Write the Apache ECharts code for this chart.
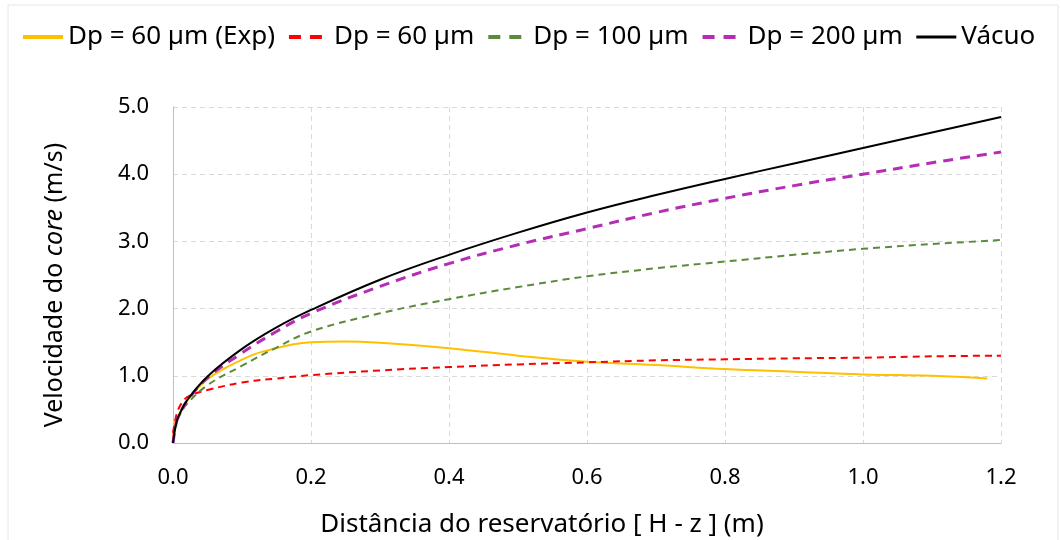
<!DOCTYPE html>
<html>
<head>
<meta charset="utf-8">
<script src="https://cdn.jsdelivr.net/npm/echarts@6/dist/echarts.min.js"></script>
<style>
  html, body { margin: 0; padding: 0; background: #fff; }
  #chart { width: 1061px; height: 540px; }
</style>
</head>
<body>
<div id="chart"></div>
<script>
// distance from reservoir [H - z] (m) and core velocity (m/s)
const expX = [0, 0.003, 0.01, 0.02, 0.05, 0.1, 0.13, 0.2, 0.25, 0.3, 0.4, 0.5, 0.6, 0.7, 0.8, 0.9, 1.0, 1.1, 1.18]
const expV = [0.05, 0.3, 0.45, 0.62, 0.95, 1.24, 1.36, 1.50, 1.51, 1.49, 1.41, 1.30, 1.21, 1.16, 1.10, 1.06, 1.02, 1.0, 0.96]

const dp60X = [0, 0.005, 0.01, 0.015, 0.02, 0.03, 0.05, 0.1, 0.15, 0.2, 0.3, 0.4, 0.5, 0.6, 0.7, 0.8, 0.9, 1.0, 1.1, 1.2]
const dp60V = [0.15, 0.42, 0.55, 0.62, 0.68, 0.73, 0.79, 0.90, 0.96, 1.01, 1.08, 1.13, 1.17, 1.20, 1.23, 1.245, 1.26, 1.27, 1.29, 1.30]

const modelX = [0, 0.005, 0.01, 0.02, 0.05, 0.1, 0.15, 0.2, 0.3, 0.4, 0.5, 0.6, 0.7, 0.8, 0.9, 1.0, 1.1, 1.2]
const dp100V = [0, 0.30, 0.42, 0.58, 0.86, 1.15, 1.42, 1.66, 1.93, 2.14, 2.32, 2.48, 2.60, 2.70, 2.80, 2.89, 2.96, 3.02]
const dp200V = [0, 0.31, 0.44, 0.62, 0.97, 1.34, 1.66, 1.93, 2.33, 2.67, 2.95, 3.19, 3.43, 3.64, 3.83, 4.00, 4.17, 4.33]
const vacuoV = [0, 0.31, 0.44, 0.63, 0.99, 1.40, 1.72, 1.98, 2.43, 2.80, 3.13, 3.43, 3.69, 3.93, 4.16, 4.39, 4.62, 4.85]

const names = ['Dp = 60 µm (Exp)', 'Dp = 60 µm', 'Dp = 100 µm', 'Dp = 200 µm', 'Vácuo']
const font = 'Noto Sans'

function pairs(xs, ys) {
  return xs.map((x, i) => [x, ys[i]])
}

function lineSeries(name, data, color, width, type) {
  return {
    name: name,
    type: 'line',
    data: data,
    smooth: 0.4,
    showSymbol: false,
    symbol: 'none',
    lineStyle: { color: color, width: width, type: type },
    itemStyle: { color: color }
  }
}

// legend icons: thicker, with the long two-dash look of the original
const dashed = { width: 4, type: [12, 9] }
const solid = { width: 4, type: 'solid' }

const chart = echarts.init(document.getElementById('chart'))
chart.setOption({
  backgroundColor: '#fff',
  animation: false,
  graphic: [
    {
      type: 'rect',
      shape: { x: 8, y: 5, width: 1050, height: 540 },
      style: { fill: 'none', stroke: '#e6e6e6', lineWidth: 1 },
      silent: true
    }
  ],
  legend: {
    top: 19,
    left: 16,
    right: 0,
    itemGap: 12,
    itemWidth: 40,
    itemHeight: 4,
    data: [
      { name: names[0], lineStyle: solid },
      { name: names[1], lineStyle: dashed },
      { name: names[2], lineStyle: dashed },
      { name: names[3], lineStyle: dashed },
      { name: names[4], lineStyle: { width: 3, type: 'solid' } }
    ],
    itemStyle: { opacity: 0 },
    textStyle: { fontFamily: font, fontSize: 26, color: '#000' }
  },
  grid: { left: 173, right: 60, top: 107, bottom: 97, outerBoundsMode: 'none' },
  xAxis: {
    type: 'value',
    min: 0,
    max: 1.2,
    interval: 0.2,
    name: 'Distância do reservatório [ H - z ] (m)',
    nameLocation: 'middle',
    nameGap: 69,
    nameTextStyle: { fontFamily: font, fontSize: 26, color: '#000', padding: [0, 90, 0, 0] },
    axisLine: { show: true, lineStyle: { color: '#bfbfbf', width: 1 } },
    axisTick: { show: false },
    axisLabel: {
      fontFamily: font, fontSize: 22, color: '#000', margin: 24,
      formatter: v => v.toFixed(1)
    },
    splitLine: { show: true, lineStyle: { color: '#d9d9d9', type: [5, 4] } }
  },
  yAxis: {
    type: 'value',
    min: 0,
    max: 5,
    interval: 1,
    name: 'Velocidade do {i|core} (m/s)',
    nameLocation: 'middle',
    nameGap: 106,
    nameTextStyle: {
      fontFamily: font, fontSize: 25, color: '#000', padding: [0, 20, 0, 0],
      rich: { i: { fontFamily: font, fontSize: 25, fontStyle: 'italic', color: '#000' } }
    },
    axisLine: { show: true, lineStyle: { color: '#bfbfbf', width: 1 } },
    axisTick: { show: false },
    axisLabel: {
      fontFamily: font, fontSize: 22, color: '#000', margin: 24,
      formatter: v => v.toFixed(1)
    },
    splitLine: { show: true, lineStyle: { color: '#d9d9d9', type: [5, 4] } }
  },
  series: [
    lineSeries(names[0], pairs(expX, expV), '#FFC000', 2, 'solid'),
    lineSeries(names[1], pairs(dp60X, dp60V), '#FF0000', 2, [7, 5]),
    lineSeries(names[2], pairs(modelX, dp100V), '#5B8A3A', 2, [7, 5]),
    lineSeries(names[3], pairs(modelX, dp200V), '#B52DB5', 3, [10, 7]),
    lineSeries(names[4], pairs(modelX, vacuoV), '#000000', 2, 'solid')
  ]
})
</script>
</body>
</html>
